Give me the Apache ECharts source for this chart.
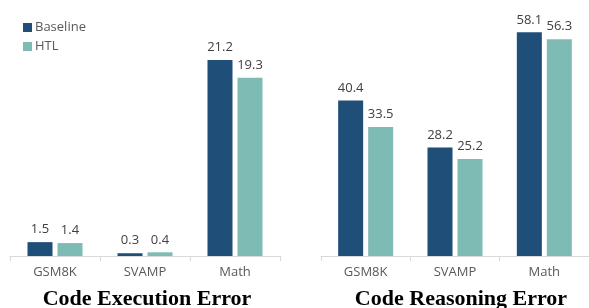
<!DOCTYPE html>
<html>
<head>
<meta charset="utf-8">
<script src="https://cdn.jsdelivr.net/npm/echarts@6/dist/echarts.min.js"></script>
<style>
  html, body { margin: 0; padding: 0; background: #fff; }
  #main { width: 589px; height: 308px; }
</style>
</head>
<body>
<div id="main"></div>
<script>
// categories and values
var categories = ['GSM8K', 'SVAMP', 'Math'];
var execBaseline = [1.5, 0.3, 21.2];
var execHTL = [1.4, 0.4, 19.3];
var reasonBaseline = [40.4, 28.2, 58.1];
var reasonHTL = [33.5, 25.2, 56.3];
var panelTitles = ['Code Execution Error', 'Code Reasoning Error'];

var colBase = '#1f4e79';
var colHTL = '#7fbbb5';
var txtFont = '"Open Sans", "Noto Sans", sans-serif';
var titleFont = '"Liberation Serif", "Times New Roman", serif';

var chart = echarts.init(document.getElementById('main'));

function xAxisFor(idx) {
	return {
		type: 'category',
		gridIndex: idx,
		data: categories,
		axisLine: { lineStyle: { color: '#d9d9d9', width: 1 } },
		axisTick: { show: true, length: 5, lineStyle: { color: '#d9d9d9' } },
		axisLabel: { color: '#595959', fontSize: 13, fontFamily: txtFont, margin: 10 }
	};
}
function yAxisFor(idx, max) {
	return {
		type: 'value', gridIndex: idx, min: 0, max: max,
		show: false, splitLine: { show: false }
	};
}
function barSeries(name, data, color, idx) {
	return {
		name: name,
		type: 'bar',
		xAxisIndex: idx,
		yAxisIndex: idx,
		data: data,
		barWidth: 25,
		barGap: '20%',
		itemStyle: { color: color },
		label: {
			show: true, position: 'top', distance: 6,
			color: '#404040', fontSize: 13, fontFamily: txtFont
		}
	};
}

var option = {
	animation: false,
	backgroundColor: '#fff',
	title: [{
		text: panelTitles[0], left: 142, top: 283, textAlign: 'center',
		textStyle: { fontFamily: titleFont, fontWeight: 'bold', fontSize: 22, color: '#000' }
	}, {
		text: panelTitles[1], left: 456, top: 283, textAlign: 'center',
		textStyle: { fontFamily: titleFont, fontWeight: 'bold', fontSize: 22, color: '#000' }
	}],
	legend: {
		orient: 'vertical', left: 18, top: 16,
		itemWidth: 9, itemHeight: 9, itemGap: 6,
		icon: 'rect',
		textStyle: { color: '#595959', fontSize: 13, fontFamily: txtFont, padding: [0, 0, 0, -2] },
		data: ['Baseline', 'HTL']
	},
	grid: [
		{ left: 10, width: 270, top: 25, height: 231 },
		{ left: 321, width: 270, top: 25, height: 231 }
	],
	xAxis: [xAxisFor(0), xAxisFor(1)],
	yAxis: [yAxisFor(0, 25), yAxisFor(1, 60)],
	series: [
		barSeries('Baseline', execBaseline, colBase, 0),
		barSeries('HTL', execHTL, colHTL, 0),
		barSeries('Baseline', reasonBaseline, colBase, 1),
		barSeries('HTL', reasonHTL, colHTL, 1)
	]
};
chart.setOption(option);
</script>
</body>
</html>
